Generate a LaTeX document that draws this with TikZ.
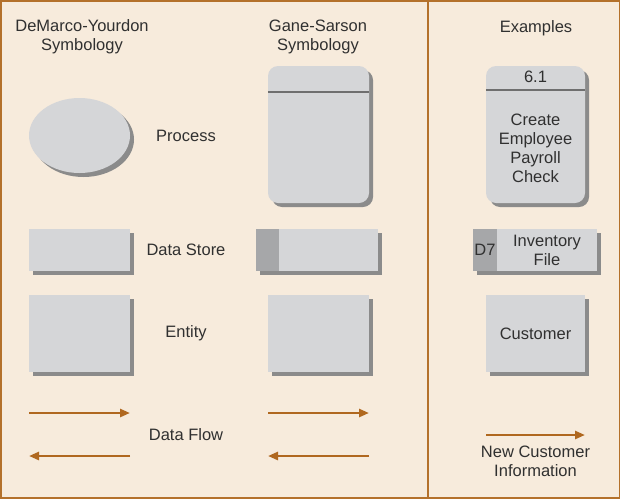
\documentclass[tikz,border=0pt]{standalone}
\usepackage{fontspec}
\setmainfont{Liberation Sans}
\usetikzlibrary{shapes, shadows, positioning, arrows.meta, calc}

\definecolor{paper}{HTML}{F7EBDC}
\definecolor{rim}{HTML}{B4712B}
\definecolor{flow}{HTML}{B0681F}
\definecolor{symfill}{HTML}{D5D6D8}
\definecolor{shade}{HTML}{8B8B8B}
\definecolor{tabfill}{HTML}{A6A7A9}
\definecolor{ink}{HTML}{303030}

\tikzset{
	sym/.style={fill=symfill, draw=none, inner sep=0pt,
		drop shadow={shadow xshift=4pt, shadow yshift=-4pt, fill=shade, opacity=1}},
	tabbox/.style={fill=tabfill, draw=none, inner sep=0pt},
	headline/.style={draw=shade!80!black, line width=1.5pt},
	flowarrow/.style={draw=flow, line width=2.5pt, -{Triangle[length=10pt, width=8pt]}},
	lbl/.style={text=ink, align=center, font=\fontsize{16.5}{19}\selectfont}
}

\begin{document}
\begin{tikzpicture}[x=1pt, y=-1pt]
	\fill[paper] (0,0) rectangle (620,498);
	\useasboundingbox (0,0) rectangle (620,498);
	\draw[rim, line width=3pt] (0,0) rectangle (620,498);
	\draw[rim, line width=2pt] (428,0) -- (428,498);

	% column heads
	\node[lbl] (dmhead) at (82,37) {DeMarco-Yourdon\\Symbology};
	\node[lbl] (gshead) at (318,37) {Gane-Sarson\\Symbology};
	\node[lbl] (exhead) at (536,28) {Examples};

	% row labels
	\node[lbl] (lproc) at (186,136) {Process};
	\node[lbl] (lstore) at (186,250) {Data Store};
	\node[lbl] (lentity) at (186,333) {Entity};
	\node[lbl] (lflow) at (186,435) {Data Flow};

	% process
	\node[sym, ellipse, minimum width=101pt, minimum height=75pt] (dmproc) at (79.5,135.5) {};
	\node[sym, rounded corners=10pt, minimum width=101pt, minimum height=137pt] (gsproc) at (318.5,134.5) {};
	\draw[headline] ($(gsproc.north west)+(0,26)$) -- ($(gsproc.north east)+(0,26)$);
	\node[sym, rounded corners=10pt, minimum width=99pt, minimum height=137pt] (exproc) at (535.5,134.5) {};
	\draw[headline] ($(exproc.north west)+(0,24)$) -- ($(exproc.north east)+(0,24)$);
	\node[lbl] (exid) at (535.5,77) {6.1};
	\node[lbl] (extext) at (535.5,148) {Create\\Employee\\Payroll\\Check};

	% data store
	\node[sym, minimum width=101pt, minimum height=42pt] (dmstore) at (79.5,250) {};
	\node[sym, minimum width=122pt, minimum height=42pt] (gsstore) at (317,250) {};
	\node[tabbox, minimum width=23pt, minimum height=42pt, anchor=west] (gstab) at (gsstore.west) {};
	\node[sym, minimum width=124pt, minimum height=42pt] (exstore) at (535,250) {};
	\node[tabbox, lbl, minimum width=24pt, minimum height=42pt, anchor=west] (extab) at (exstore.west) {D7};
	\node[lbl] (exstorename) at (547,250) {Inventory\\File};

	% entity
	\foreach \cx/\nm in {79.5/dment, 318.5/gsent}
		\node[sym, minimum width=101pt, minimum height=77pt] (\nm) at (\cx,333.5) {};
	\node[sym, lbl, minimum width=99pt, minimum height=77pt] (exent) at (535.5,333.5) {Customer};

	% data flow
	\foreach \lx/\rx/\nm in {29/130/dm, 268/369/gs}
	{
		\coordinate (\nm fa) at (\lx,413);
		\coordinate (\nm fb) at (\rx,413);
		\coordinate (\nm fc) at (\rx,456);
		\coordinate (\nm fd) at (\lx,456);
		\draw[flowarrow] (\nm fa) -- (\nm fb);
		\draw[flowarrow] (\nm fc) -- (\nm fd);
	}
	\coordinate (exfa) at (486,435);
	\coordinate (exfb) at (585,435);
	\draw[flowarrow] (exfa) -- (exfb);
	\node[lbl] (exflow) at (535.5,461) {New Customer\\Information};
\end{tikzpicture}
\end{document}
